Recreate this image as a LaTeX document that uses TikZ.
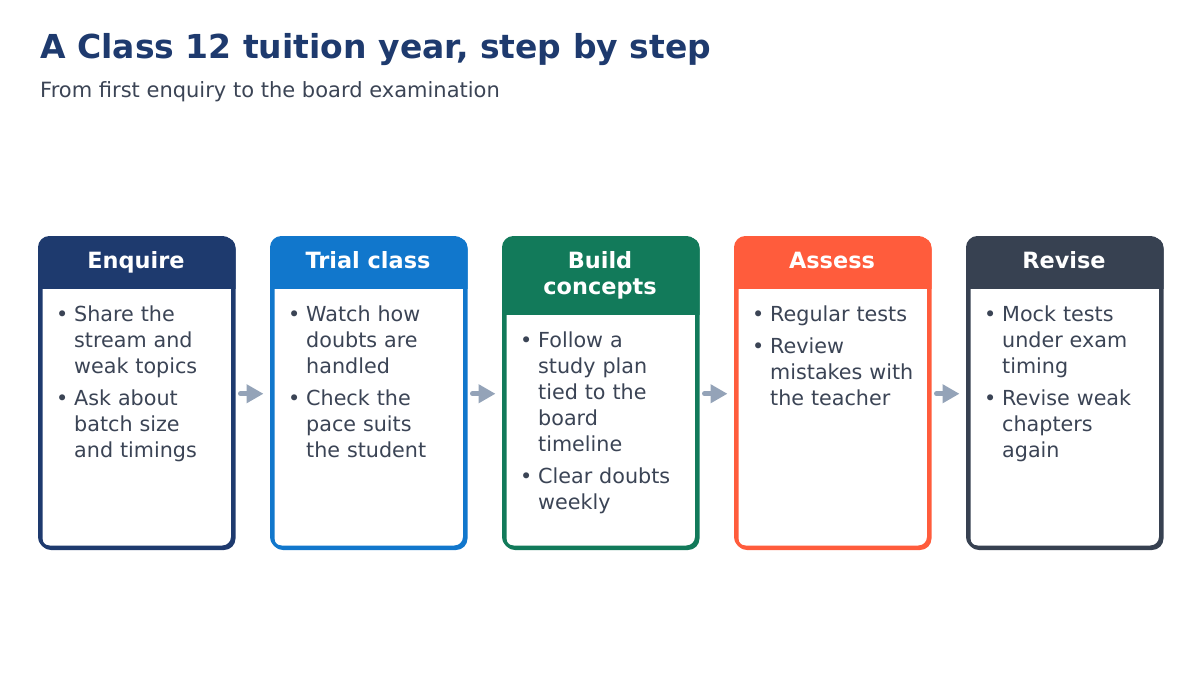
\documentclass[tikz,border=0pt]{standalone}
\usepackage{fontspec}
\setmainfont{DejaVu Sans}
\usetikzlibrary{arrows.meta,positioning}
\definecolor{navy}{HTML}{1E3A6E}
\definecolor{skyblue}{HTML}{1177CC}
\definecolor{leaf}{HTML}{127A5A}
\definecolor{coral}{HTML}{FF5C3C}
\definecolor{slate}{HTML}{374151}
\definecolor{inktext}{HTML}{3B4455}
\definecolor{arrowgray}{HTML}{94A3B8}
\tikzstyle{card} = [rectangle, rounded corners=10pt, minimum width=193pt, minimum height=309.5pt, line width=3pt, fill=white, anchor=north west]
\tikzstyle{head} = [text=white, font=\bfseries\fontsize{22.4}{26}\selectfont, align=center, inner sep=0pt, anchor=base]
\tikzstyle{body} = [text=inktext, font=\fontsize{20.7}{26}\selectfont\setlength{\parskip}{6pt}\setlength{\parindent}{0pt}, text width=180pt, align=left, anchor=north west, inner sep=0pt]
\tikzstyle{arrow} = [line width=5pt, line cap=round, -{Triangle[length=17pt,width=18pt]}, arrowgray]
\newcommand{\bul}{\par\hangindent=18pt\hangafter=1\noindent\makebox[18pt][l]{\rule{0pt}{15pt}•}}

\begin{document}
\begin{tikzpicture}[x=1pt, y=-1pt]
\useasboundingbox (0,0) rectangle (1200,675);
% title
\node (title) [anchor=base west, inner sep=0pt, text=navy, font=\bfseries\fontsize{33}{38}\selectfont] at (40,58) {A Class 12 tuition year, step by step};
\node (subtitle) [anchor=base west, inner sep=0pt, text=inktext, font=\fontsize{21}{26}\selectfont] at (40,97) {From first enquiry to the board examination};

% cards
\node (enq) [card, draw=navy] at (39.5,237.5) {};
\node (trial) [card, draw=skyblue] at (271.5,237.5) {};
\node (build) [card, draw=leaf] at (503.5,237.5) {};
\node (assess) [card, draw=coral] at (735.5,237.5) {};
\node (revise) [card, draw=slate] at (967.5,237.5) {};

% header bands
\begin{scope}
\clip[rounded corners=10pt] (enq.north west) rectangle (enq.south east);
\fill[navy] (enq.north west) rectangle ([yshift=-51pt]enq.north east);
\end{scope}
\begin{scope}
\clip[rounded corners=10pt] (trial.north west) rectangle (trial.south east);
\fill[skyblue] (trial.north west) rectangle ([yshift=-51pt]trial.north east);
\end{scope}
\begin{scope}
\clip[rounded corners=10pt] (build.north west) rectangle (build.south east);
\fill[leaf] (build.north west) rectangle ([yshift=-77pt]build.north east);
\end{scope}
\begin{scope}
\clip[rounded corners=10pt] (assess.north west) rectangle (assess.south east);
\fill[coral] (assess.north west) rectangle ([yshift=-51pt]assess.north east);
\end{scope}
\begin{scope}
\clip[rounded corners=10pt] (revise.north west) rectangle (revise.south east);
\fill[slate] (revise.north west) rectangle ([yshift=-51pt]revise.north east);
\end{scope}
\draw[navy, line width=3pt, rounded corners=10pt] (39.5,237.5) rectangle (232.5,547);
\draw[skyblue, line width=3pt, rounded corners=10pt] (271.5,237.5) rectangle (464.5,547);
\draw[leaf, line width=3pt, rounded corners=10pt] (503.5,237.5) rectangle (696.5,547);
\draw[coral, line width=3pt, rounded corners=10pt] (735.5,237.5) rectangle (928.5,547);
\draw[slate, line width=3pt, rounded corners=10pt] (967.5,237.5) rectangle (1160.5,547);

% header texts
\node (enqhead) [head] at (136,268) {Enquire};
\node (trialhead) [head] at (368,268) {Trial class};
\node (buildhead) [head] at (600,294) {Build\\concepts};
\node (assesshead) [head] at (832,268) {Assess};
\node (revisehead) [head] at (1064,268) {Revise};

% bullet texts
\node (enqbody) [body] at (56,289) {\bul Share the\newline stream and\newline weak topics\bul Ask about\newline batch size\newline and timings\par};
\node (trialbody) [body] at (288,289) {\bul Watch how\newline doubts are\newline handled\bul Check the\newline pace suits\newline the student\par};
\node (buildbody) [body] at (520,315) {\bul Follow a\newline study plan\newline tied to the\newline board\newline timeline\bul Clear doubts\newline weekly\par};
\node (assessbody) [body] at (752,289) {\bul Regular tests\bul Review\newline mistakes with\newline the teacher\par};
\node (revisebody) [body] at (984,289) {\bul Mock tests\newline under exam\newline timing\bul Revise weak\newline chapters\newline again\par};

% arrows
\draw[arrow] ([xshift=5pt]enq.east) -- ([xshift=-8pt]trial.west);
\draw[arrow] ([xshift=5pt]trial.east) -- ([xshift=-8pt]build.west);
\draw[arrow] ([xshift=5pt]build.east) -- ([xshift=-8pt]assess.west);
\draw[arrow] ([xshift=5pt]assess.east) -- ([xshift=-8pt]revise.west);
\end{tikzpicture}
\end{document}
